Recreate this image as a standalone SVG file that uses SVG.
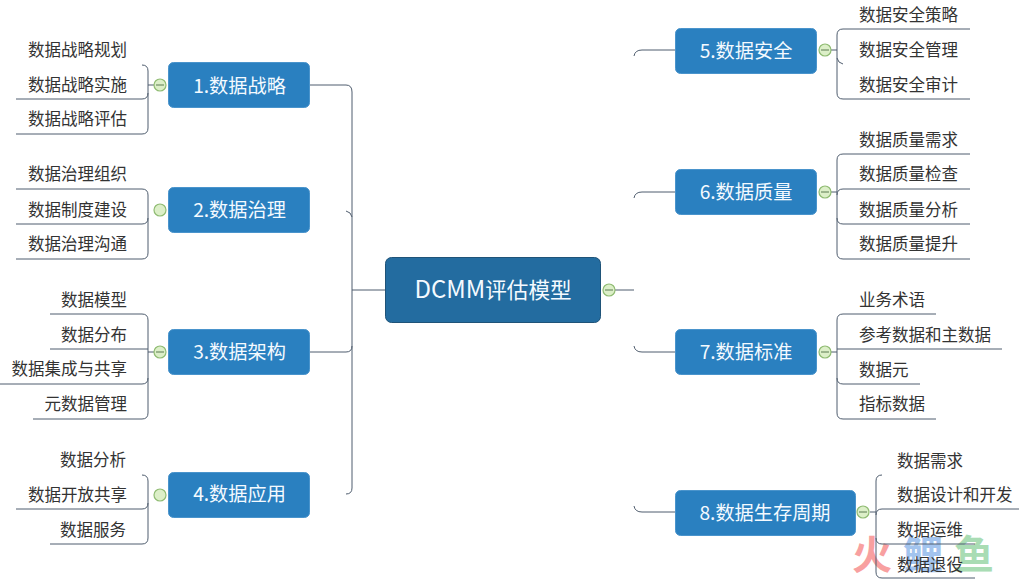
<svg xmlns="http://www.w3.org/2000/svg" width="1019" height="581" viewBox="0 0 1019 581">
<style>
text{font-family:"Noto Sans CJK SC","Noto Sans",sans-serif}
.n{fill:#2a80c0;stroke:#4a94cc;stroke-width:1}
.c{fill:#236ca0;stroke:#1f5378;stroke-width:1}
.nt{font-size:19.2px;fill:#f4faff;text-anchor:middle}
.ct{font-size:21.6px;fill:#f4faff;text-anchor:middle}
.s{font-size:16.5px;fill:#333}
.l{text-anchor:end}
.w{font-size:40px;font-weight:700}
.ln{fill:none;stroke:#4f5d6e;stroke-width:1}
.b{fill:#dcefc8;stroke:#8fbb72;stroke-width:1.2}
.m{fill:none;stroke:#5a7a50;stroke-width:1}
</style>
<rect width="1019" height="581" fill="#fff"/>
<g id="watermark">
<text class="w" x="852" y="569" fill="#f8a0a0">火</text>
<text class="w" x="903" y="569" fill="#a3c4ee">鲤</text>
<text class="w" x="954" y="569" fill="#a9dcb4">鱼</text>
</g>
<g id="connectors" class="ln">
<path d="M310 85H346Q352 85 352 92V488Q352 494 346 494"/>
<path d="M346 211Q351 212 352 217"/>
<path d="M310 352H346Q352 352 352 346"/>
<path d="M352 290H385"/>
<path d="M615 290H634"/>
<path d="M675 50H642Q635 50 634 56"/>
<path d="M675 192H642Q635 192 634 198"/>
<path d="M675 352H642Q635 352 634 346"/>
<path d="M675 512H642Q635 512 634 506"/>
<path d="M142 65Q148 65 148 71V128Q148 134 142 134H16M16 99H142Q148 99 148 93M148 85H155"/>
<path d="M16 189H142Q148 189 148 195V253Q148 259 142 259H16M16 224H142Q148 224 148 218"/>
<path d="M50 314H142Q148 314 148 320V413Q148 419 142 419H33M50 349H148M0 384H142Q148 384 148 378M148 352H155"/>
<path d="M142 475Q148 475 148 481V538Q148 544 142 544H50M16 509H142Q148 509 148 503"/>
<path d="M970 29H843Q837 29 837 35V93Q837 99 843 99H970M837 58Q838 63 843 64M831 50H837"/>
<path d="M970 154H843Q837 154 837 160V253Q837 259 843 259H970M837 195Q837 189 843 189H970M837 218Q837 224 843 224H970M831 192H837"/>
<path d="M936 314H843Q837 314 837 320V413Q837 419 843 419H936M837 349H1002M837 378Q837 384 843 384H920M831 352H837"/>
<path d="M882 475Q876 475 876 481V572Q876 578 882 578H975M876 515Q876 509 882 509H1019M876 538Q876 544 882 544H975M870 512H876"/>
</g>
<g id="center"><rect class="c" x="385.500" y="257.500" width="215" height="65" rx="6"/><text class="ct" x="493" y="298"><tspan font-size="24">DCMM</tspan>评估模型</text><circle class="b" cx="609" cy="290" r="6"/><path class="m" d="M605 290H613"/></g>
<g id="node1"><rect class="n" x="168.500" y="62.500" width="141" height="45" rx="5"/><text class="nt" x="239.500" y="93">1.数据战略</text><circle class="b" cx="160" cy="85" r="6"/><path class="m" d="M156 85H164"/><text class="s l" x="127" y="56">数据战略规划</text><text class="s l" x="127" y="91">数据战略实施</text><text class="s l" x="127" y="125">数据战略评估</text></g>
<g id="node2"><rect class="n" x="168.500" y="187.500" width="141" height="45" rx="5"/><text class="nt" x="239.500" y="217">2.数据治理</text><circle class="b" cx="160" cy="210" r="6"/><text class="s l" x="127" y="180">数据治理组织</text><text class="s l" x="127" y="216">数据制度建设</text><text class="s l" x="127" y="250">数据治理沟通</text></g>
<g id="node3"><rect class="n" x="168.500" y="329.500" width="141" height="45" rx="5"/><text class="nt" x="239.500" y="359">3.数据架构</text><circle class="b" cx="160" cy="352" r="6"/><path class="m" d="M156 352H164"/><text class="s l" x="127" y="306">数据模型</text><text class="s l" x="127" y="341">数据分布</text><text class="s l" x="127" y="375">数据集成与共享</text><text class="s l" x="127" y="410">元数据管理</text></g>
<g id="node4"><rect class="n" x="168.500" y="472.500" width="141" height="45" rx="5"/><text class="nt" x="239.500" y="501">4.数据应用</text><circle class="b" cx="160" cy="495" r="6"/><text class="s l" x="126" y="466">数据分析</text><text class="s l" x="127" y="501">数据开放共享</text><text class="s l" x="126" y="536">数据服务</text></g>
<g id="node5"><rect class="n" x="675.500" y="28.500" width="141" height="45" rx="5"/><text class="nt" x="746" y="58">5.数据安全</text><circle class="b" cx="825" cy="50" r="6"/><path class="m" d="M821 50H829"/><text class="s" x="859" y="21">数据安全策略</text><text class="s" x="859" y="56">数据安全管理</text><text class="s" x="859" y="91">数据安全审计</text></g>
<g id="node6"><rect class="n" x="675.500" y="169.500" width="141" height="45" rx="5"/><text class="nt" x="746" y="199">6.数据质量</text><circle class="b" cx="825" cy="192" r="6"/><path class="m" d="M821 192H829"/><text class="s" x="859" y="146">数据质量需求</text><text class="s" x="859" y="180">数据质量检查</text><text class="s" x="859" y="216">数据质量分析</text><text class="s" x="859" y="250">数据质量提升</text></g>
<g id="node7"><rect class="n" x="675.500" y="329.500" width="141" height="45" rx="5"/><text class="nt" x="746" y="359">7.数据标准</text><circle class="b" cx="825" cy="352" r="6"/><path class="m" d="M821 352H829"/><text class="s" x="859" y="306">业务术语</text><text class="s" x="859" y="341">参考数据和主数据</text><text class="s" x="859" y="376">数据元</text><text class="s" x="859" y="410">指标数据</text></g>
<g id="node8"><rect class="n" x="675.500" y="490.500" width="180" height="45" rx="5"/><text class="nt" x="765" y="520">8.数据生存周期</text><circle class="b" cx="863" cy="512" r="6"/><path class="m" d="M859 512H867"/><text class="s" x="897" y="467">数据需求</text><text class="s" x="897" y="501">数据设计和开发</text><text class="s" x="897" y="536">数据运维</text><text class="s" x="897" y="571">数据退役</text></g>
</svg>
